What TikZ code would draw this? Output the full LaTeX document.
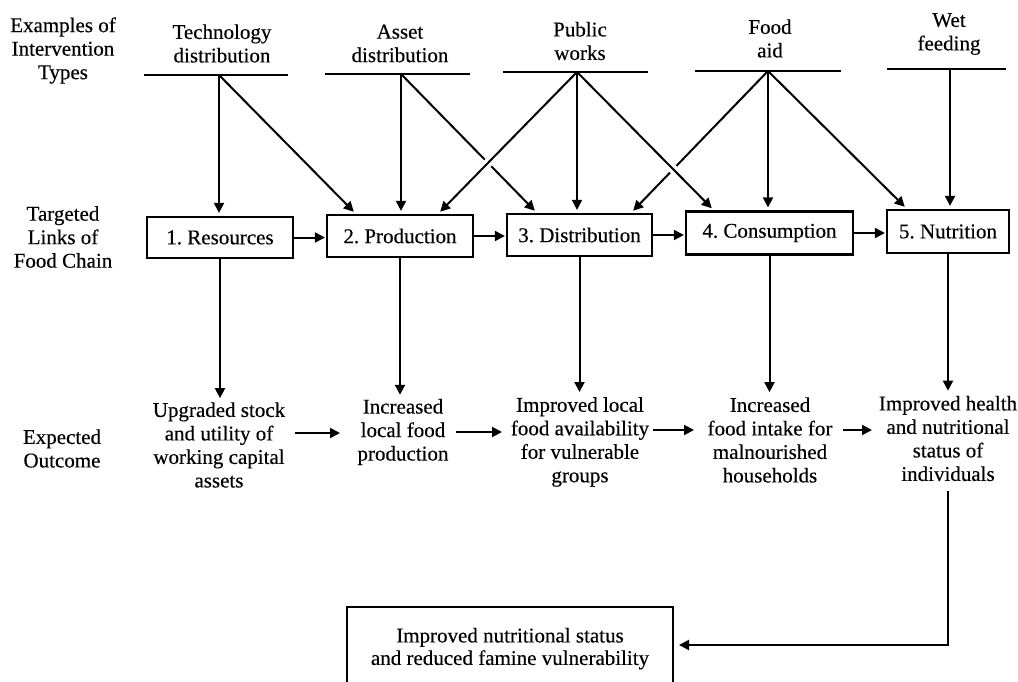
\documentclass[tikz,border=0pt]{standalone}
\usepackage{fontspec}
\setmainfont{Liberation Serif}[FakeBold=0.3]
\usetikzlibrary{arrows.meta,calc}
\begin{document}
\begin{tikzpicture}[x=1pt,y=-1pt,
  txt/.style={inner sep=0pt,align=center,font=\fontsize{21}{23.5}\selectfont},
  link/.style={draw,line width=2.2pt,inner sep=0pt,font=\fontsize{21}{23.5}\selectfont},
  bar/.style={line width=2pt},
  arr/.style={line width=2pt,-{Triangle[length=10pt,width=10pt]}},
  gap/.style={draw=white,line width=9pt}]
\useasboundingbox (0,0) rectangle (1018,682);
% left row labels
\node[txt] (lab1) at (63,50.5) {Examples of\\Intervention\\Types};
\node[txt] (lab2) at (63,237) {Targeted\\Links of\\Food Chain};
\node[txt] (lab3) at (62,448.5) {Expected\\Outcome};
% intervention types
\node[txt] (tech) at (222,43.5) {Technology\\distribution};
\node[txt] (asset) at (400,43.5) {Asset\\distribution};
\node[txt] (pw) at (580,41) {Public\\works};
\node[txt] (food) at (770,38.5) {Food\\aid};
\node[txt] (wet) at (949,34) {Wet\\feeding};
\coordinate (tA) at (219,75); \coordinate (tL) at (144,75); \coordinate (tR) at (288,75);
\coordinate (aA) at (401,74); \coordinate (aL) at (325,74); \coordinate (aR) at (470,74);
\coordinate (pA) at (577,72); \coordinate (pL) at (503,72); \coordinate (pR) at (648,72);
\coordinate (fA) at (768,71); \coordinate (fL) at (695,71); \coordinate (fR) at (841,71);
\coordinate (wA) at (950,69); \coordinate (wL) at (887,69); \coordinate (wR) at (1006,69);
\draw[bar] (tL) -- (tR); \draw[bar] (aL) -- (aR); \draw[bar] (pL) -- (pR);
\draw[bar] (fL) -- (fR); \draw[bar] (wL) -- (wR);
% food chain links
\node[link,minimum width=146pt,minimum height=41pt] (res) at (220,237.5) {1.\ Resources};
\node[link,minimum width=146pt,minimum height=42pt] (prod) at (400,236) {2.\ Production};
\node[link,minimum width=145pt,minimum height=42pt] (dist) at (579.5,235) {3.\ Distribution};
\node[link,minimum width=167pt,minimum height=43pt] (cons) at (769.5,233) {4.\ Consumption};
\node[link,minimum width=122pt,minimum height=43pt] (nutr) at (948,231.5) {5.\ Nutrition};
% arrows from intervention types
\draw[arr,shorten >=3pt] (tA) -- (tA |- res.north);
\draw[arr,shorten >=3pt] (tA) -- ($(prod.north west)+(30,0)$);
\draw[arr,shorten >=3pt] (aA) -- (aA |- prod.north);
\draw[arr,shorten >=3pt] (aA) -- ($(dist.north west)+(31,0)$);
\draw[arr,shorten >=3pt] (fA) -- ($(dist.north east)+(-22,0)$);
\draw[gap] ($(pA)!0.60!($(prod.north east)+(-36,0)$)$) -- ($(pA)!0.68!($(prod.north east)+(-36,0)$)$);
\draw[gap] ($(pA)!0.65!($(cons.north west)+(29,0)$)$) -- ($(pA)!0.73!($(cons.north west)+(29,0)$)$);
\draw[arr,shorten >=3pt] (pA) -- ($(prod.north east)+(-36,0)$);
\draw[arr,shorten >=3pt] (pA) -- (pA |- dist.north);
\draw[arr,shorten >=3pt] (pA) -- ($(cons.north west)+(29,0)$);
\draw[arr,shorten >=3pt] (fA) -- (fA |- cons.north);
\draw[arr,shorten >=3pt] (fA) -- ($(nutr.north west)+(21,0)$);
\draw[arr,shorten >=3pt] (wA) -- (wA |- nutr.north);
% arrows between links
\draw[arr,shorten >=1pt] (res.east) -- (res.east -| prod.west);
\draw[arr,shorten >=1pt] (prod.east) -- (prod.east -| dist.west);
\draw[arr,shorten >=1pt] (dist.east) -- (dist.east -| cons.west);
\draw[arr,shorten >=1pt] (cons.east) -- (cons.east -| nutr.west);
% expected outcomes
\node[txt] (o1) at (219,445) {Upgraded stock\\and utility of\\working capital\\assets};
\node[txt] (o2) at (403,432) {Increased\\local food\\production};
\node[txt] (o3) at (580,442) {Improved local\\food availability\\for vulnerable\\groups};
\node[txt] (o4) at (770,440) {Increased\\food intake for\\malnourished\\households};
\node[txt] (o5) at (948,438.5) {Improved health\\and nutritional\\status of\\individuals};
\draw[arr,shorten >=4pt] (res.south) -- (res.south |- o1.north);
\draw[arr,shorten >=4pt] (prod.south) -- (prod.south |- o2.north);
\draw[arr,shorten >=5pt] (dist.south) -- (dist.south |- o3.north);
\draw[arr,shorten >=5pt] (cons.south) -- (cons.south |- o4.north);
\draw[arr,shorten >=5pt] (nutr.south) -- (nutr.south |- o5.north);
% outcome chain arrows
\coordinate (h1s) at (295,433); \coordinate (h1e) at (340,433);
\coordinate (h2s) at (456,432); \coordinate (h2e) at (502,432);
\coordinate (h3s) at (653,430); \coordinate (h3e) at (694,430);
\coordinate (h4s) at (843,430); \coordinate (h4e) at (872,430);
\draw[arr] (h1s) -- (h1e);
\draw[arr] (h2s) -- (h2e);
\draw[arr] (h3s) -- (h3e);
\draw[arr] (h4s) -- (h4e);
% final outcome
\node[link,line width=2pt,minimum width=326pt,minimum height=84pt,align=center] (final) at (510,649)
  {\raisebox{3pt}{\begin{tabular}{@{}c@{}}Improved nutritional status\\[-1pt]and reduced famine vulnerability\end{tabular}}};
\draw[arr,shorten <=10pt,shorten >=5pt] (o5.south) |- (final.east |- 0,645);
\end{tikzpicture}
\end{document}
